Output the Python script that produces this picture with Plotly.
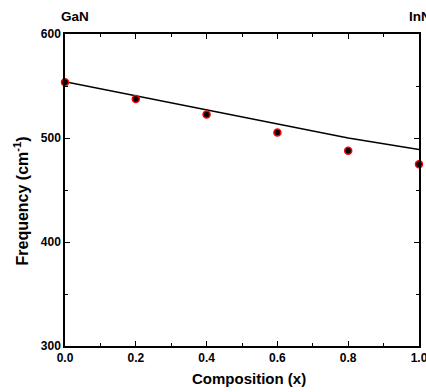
import plotly.graph_objects as go

composition = [0.0, 0.2, 0.4, 0.6, 0.8, 1.0]
measured = [553.6, 537.5, 522.5, 505.2, 487.8, 474.7]
model = [554.0, 540.5, 527.0, 513.5, 500.0, 489.0]

FONT = "Arial, Liberation Sans, sans-serif"

fig = go.Figure()
fig.add_trace(go.Scatter(x=composition, y=model, mode="lines",
                         line=dict(color="black", width=1.5), showlegend=False))
fig.add_trace(go.Scatter(x=composition, y=measured, mode="markers",
                         marker=dict(color="black", size=7, line=dict(color="red", width=1.5)),
                         showlegend=False, cliponaxis=False))

axis_common = dict(showline=True, linecolor="black", linewidth=1.5, mirror="ticks",
                   ticks="inside", ticklen=5, tickwidth=1, tickcolor="black",
                   showgrid=False, zeroline=False, automargin=False,
                   ticklabeloverflow="allow",
                   tickfont=dict(family=FONT, size=12, color="black", weight="bold"))

fig.update_xaxes(range=[0, 1.0], tickvals=[0, 0.2, 0.4, 0.6, 0.8, 1.0],
                 ticktext=["0.0", "0.2", "0.4", "0.6", "0.8", "1.0"],
                 minor=dict(dtick=0.1, ticks="inside", ticklen=3, tickcolor="black"),
                 **axis_common)
fig.update_yaxes(range=[300, 600], tickvals=[300, 400, 500, 600],
                 minor=dict(dtick=50, ticks="inside", ticklen=3, tickcolor="black"),
                 **axis_common)

# axis titles as annotations (placed as in the reference)
fig.add_annotation(text="Composition (x)", xref="paper", yref="paper",
                   x=(249 - 65) / 354, y=(346 - 378) / 312,
                   xanchor="center", yanchor="middle", showarrow=False,
                   font=dict(family=FONT, size=15, color="black", weight="bold"))
fig.add_annotation(text="Frequency (cm<sup>-1</sup>)", xref="paper", yref="paper",
                   x=(21.5 - 65) / 354, y=(346 - 201) / 312, textangle=-90,
                   xanchor="center", yanchor="middle", showarrow=False,
                   font=dict(family=FONT, size=16, color="black", weight="bold"))

fig.add_annotation(text="GaN", xref="paper", yref="paper", x=(59 - 65) / 354, y=1 + 17 / 312,
                   xanchor="left", yanchor="middle", showarrow=False,
                   font=dict(family=FONT, size=13.5, color="black", weight="bold"))
fig.add_annotation(text="InN", xref="paper", yref="paper", x=(407 - 65) / 354, y=1 + 17 / 312,
                   xanchor="left", yanchor="middle", showarrow=False,
                   font=dict(family=FONT, size=13.5, color="black", weight="bold"))

fig.update_layout(width=426, height=392, margin=dict(l=65, r=7, t=34, b=46),
                  plot_bgcolor="white", paper_bgcolor="white",
                  font=dict(family=FONT, color="black"))

fig.write_html("out.html", config={"displayModeBar": False})

with open("out.html", "r", encoding="utf-8") as f:
    html = f.read()
html = html.replace("<head>", "<head><style>html,body{margin:0;padding:0;overflow:hidden;}</style>", 1)
with open("out.html", "w", encoding="utf-8") as f:
    f.write(html)
